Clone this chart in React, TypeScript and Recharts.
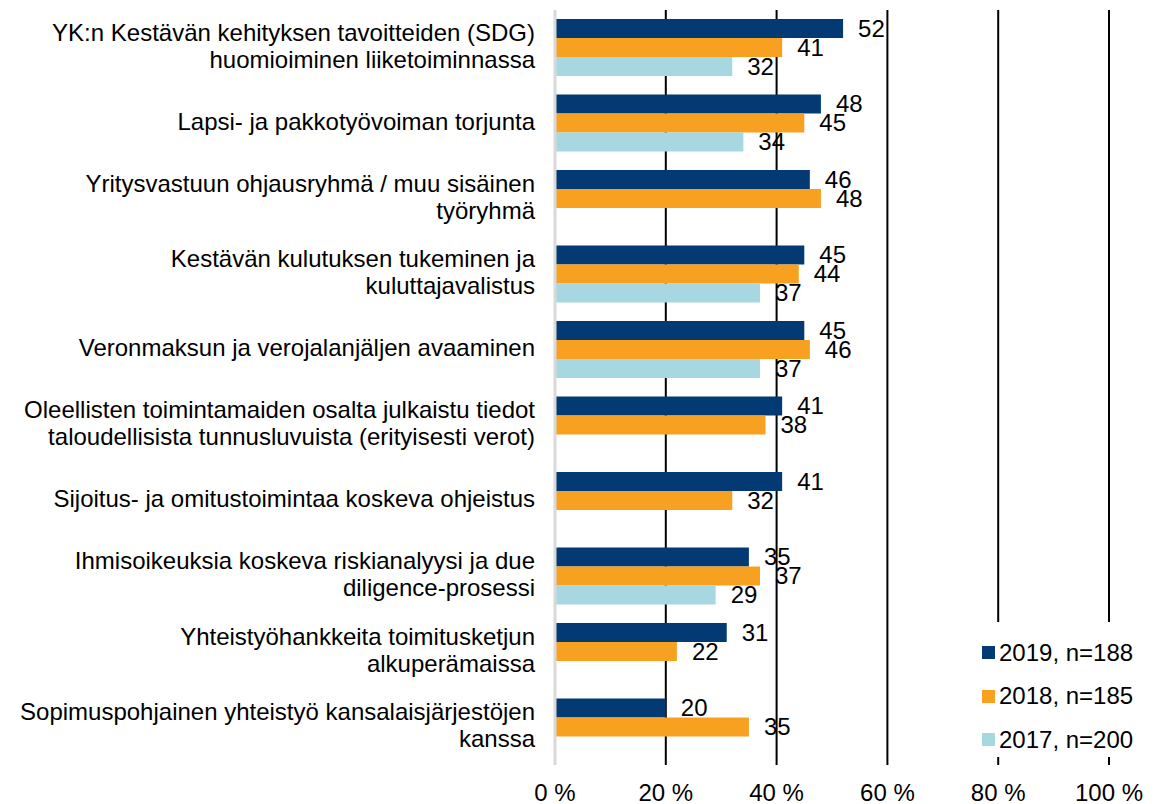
import { Bar, BarChart, CartesianGrid, LabelList, Legend, XAxis, YAxis } from "recharts";

const categories = [
  "YK:n Kestävän kehityksen tavoitteiden (SDG)\nhuomioiminen liiketoiminnassa",
  "Lapsi- ja pakkotyövoiman torjunta",
  "Yritysvastuun ohjausryhmä / muu sisäinen\ntyöryhmä",
  "Kestävän kulutuksen tukeminen ja\nkuluttajavalistus",
  "Veronmaksun ja verojalanjäljen avaaminen",
  "Oleellisten toimintamaiden osalta julkaistu tiedot\ntaloudellisista tunnusluvuista (erityisesti verot)",
  "Sijoitus- ja omitustoimintaa koskeva ohjeistus",
  "Ihmisoikeuksia koskeva riskianalyysi ja due\ndiligence-prosessi",
  "Yhteistyöhankkeita toimitusketjun\nalkuperämaissa",
  "Sopimuspohjainen yhteistyö kansalaisjärjestöjen\nkanssa"
];

const values2019 = [52, 48, 46, 45, 45, 41, 41, 35, 31, 20];
const values2018 = [41, 45, 48, 44, 46, 38, 32, 37, 22, 35];
const values2017 = [32, 34, null, 37, 37, null, null, 29, null, null];

const xTicks = [0, 20, 40, 60, 80, 100];

const series = [
  { key: "y2019", name: "2019, n=188", color: "#033a74" },
  { key: "y2018", name: "2018, n=185", color: "#f8a01f" },
  { key: "y2017", name: "2017, n=200", color: "#a7d8e1" }
];

const data = categories.map((name, i) => ({
  name,
  y2019: values2019[i],
  y2018: values2018[i],
  y2017: values2017[i]
}));

const FONT = "'Liberation Sans', Arial, sans-serif";

const CategoryTick = ({ x, y, payload }: any) => {
  const lines = String(payload.value).split("\n");
  const lineHeight = 27;
  return (
    <text x={x} y={y} textAnchor="end" fontSize={24} fontFamily={FONT} fill="#000">
      {lines.map((line, i) => (
        <tspan key={i} x={x} y={y + (i - (lines.length - 1) / 2) * lineHeight - 2} dy="0.35em">
          {line}
        </tspan>
      ))}
    </text>
  );
};

const ValueLabel = ({ x, y, width, height, value }: any) => {
  if (value === null || value === undefined) return null;
  return (
    <text
      x={x + width + 15}
      y={y + height / 2}
      dy="0.35em"
      fontSize={24}
      fontFamily={FONT}
      fill="#000"
    >
      {value}
    </text>
  );
};

const LegendBox = () => (
  <div
    style={{
      background: "#fff",
      width: 165,
      height: 135,
      paddingLeft: 7,
      paddingTop: 9,
      boxSizing: "border-box",
      fontFamily: FONT,
      fontSize: 24
    }}
  >
    {series.map((s) => (
      <div key={s.key} style={{ display: "flex", alignItems: "center", height: 43.5 }}>
        <span style={{ width: 13, height: 13, background: s.color, marginRight: 4 }} />
        <span style={{ color: "#000" }}>{s.name}</span>
      </div>
    ))}
  </div>
);

export default function App() {
  return (
    <div style={{ position: "absolute", left: 0, top: 0, background: "#fff" }}>
      <BarChart
        width={1165}
        height={804}
        data={data}
        layout="vertical"
        barSize={19}
        barGap={0}
        margin={{ top: 10, right: 56, bottom: 0, left: 0 }}
      >
        <CartesianGrid horizontal={false} stroke="#000" strokeWidth={2} />
        <XAxis
          type="number"
          domain={[0, 100]}
          ticks={xTicks}
          tickFormatter={(v) => `${v} %`}
          axisLine={false}
          tickLine={false}
          tickSize={0}
          tickMargin={19}
          height={39}
          tick={{ fontSize: 24, fontFamily: FONT, fill: "#000" }}
        />
        <YAxis
          type="category"
          dataKey="name"
          width={555}
          axisLine={{ stroke: "#d9d9d9", strokeWidth: 3 }}
          tickLine={false}
          tickSize={0}
          tickMargin={20}
          interval={0}
          tick={<CategoryTick />}
        />
        <Legend
          layout="vertical"
          align="center"
          verticalAlign="middle"
          content={<LegendBox />}
          wrapperStyle={{ left: 975, top: 622, width: 165, height: 135 }}
        />
        {series.map((s) => (
          <Bar key={s.key} dataKey={s.key} name={s.name} fill={s.color} isAnimationActive={false}>
            <LabelList dataKey={s.key} content={<ValueLabel />} />
          </Bar>
        ))}
      </BarChart>
    </div>
  );
}
